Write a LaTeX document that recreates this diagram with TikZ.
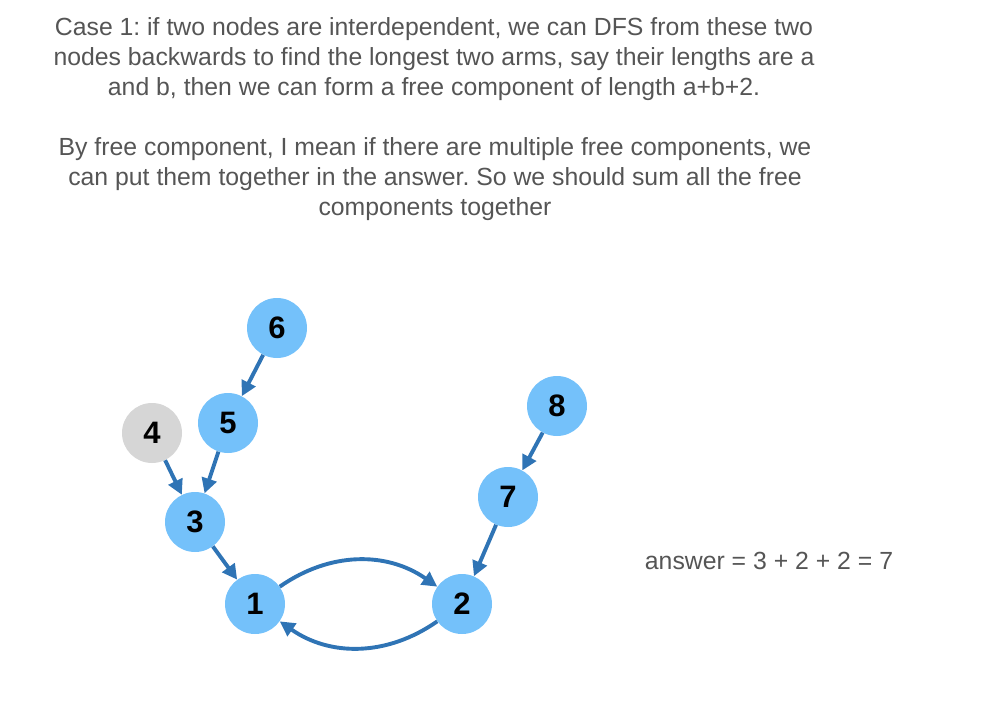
\documentclass[tikz,border=0pt]{standalone}
\usepackage{fontspec}
\setmainfont{Liberation Sans}
\usetikzlibrary{arrows.meta,positioning}
\definecolor{vfree}{HTML}{74C1FA}
\definecolor{vgray}{HTML}{D6D6D6}
\definecolor{edgeblue}{HTML}{2F74B5}
\definecolor{txtgray}{HTML}{555555}
\frenchspacing
\tikzset{
  note/.style={align=center, text=txtgray, font=\fontsize{24.8}{30}\selectfont},
  vert/.style={circle, minimum size=60pt, inner sep=0pt, fill=vfree,
               font=\fontsize{31}{32}\selectfont\bfseries},
  edge/.style={draw=edgeblue, line width=3.9pt,
               -{Triangle[length=15pt,width=15pt]}},
}

\begin{document}
\begin{tikzpicture}[x=1pt, y=-1pt]
\useasboundingbox (0,0) rectangle (1000,712);

% ---- explanation ----
\node[note] (case) at (434,59) {Case 1: if two nodes are interdependent, we can DFS from these two\\
  nodes backwards to find the longest two arms, say their lengths are a\\
  and b, then we can form a free component of length a+b+2.};
\node[note] (freec) at (435,179) {By free component, I mean if there are multiple free components, we\\
  can put them together in the answer. So we should sum all the free\\
  components together};

% ---- graph ----
\node[vert] (n6) at (277,328) {6};
\node[vert] (n5) at (228,423) {5};
\node[vert, fill=vgray] (n4) at (152,433) {4};
\node[vert] (n3) at (195,522) {3};
\node[vert] (n1) at (255,604) {1};
\node[vert] (n2) at (462,604) {2};
\node[vert] (n7) at (508,497) {7};
\node[vert] (n8) at (557,406) {8};

\draw[edge] (n6) -- (n5);
\draw[edge] (n5) -- (n3);
\draw[edge] (n4) -- (n3);
\draw[edge] (n3) -- (n1);
\draw[edge] (n8) -- (n7);
\draw[edge] (n7) -- (n2);
\draw[edge] (n1) to[bend left=35] (n2);
\draw[edge] (n2) to[bend left=35] (n1);

\node[note] (ans) at (769,561) {answer = 3 + 2 + 2 = 7};

\end{tikzpicture}
\end{document}
